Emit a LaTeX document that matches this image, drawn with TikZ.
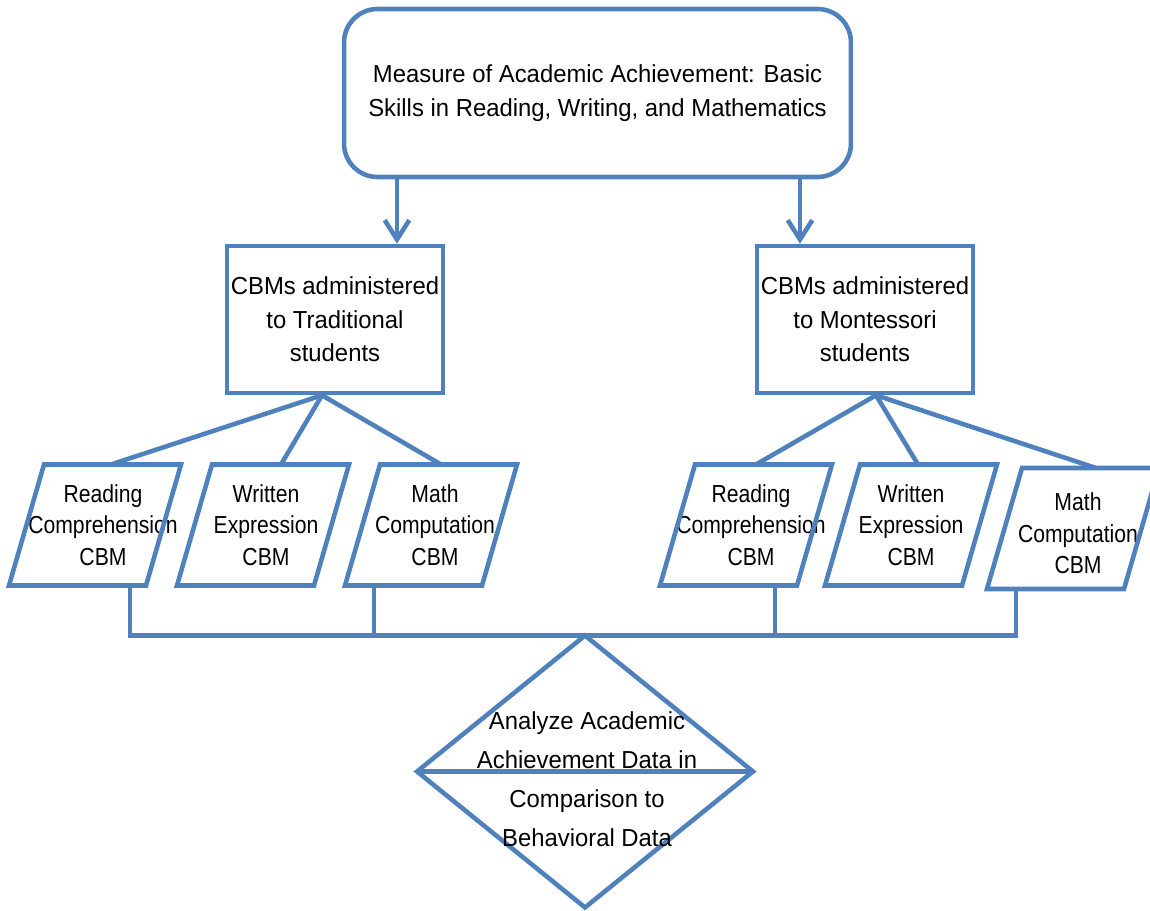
\documentclass[tikz,border=0pt]{standalone}
\usepackage{fontspec}
\setmainfont{Liberation Sans}
\newfontfamily\narrowfont{Liberation Sans}[FakeStretch=0.86]
\newfontfamily\boxfont{Liberation Sans}[FakeStretch=0.97]
\usetikzlibrary{shapes.geometric,arrows.meta,calc}
\definecolor{lineblue}{RGB}{79,129,189}
\newcommand\paragram[6]{% name, cx, cy, text dx, text dy, text
  \node[paratext] (#1) at (#2+#4,#3+#5) {#6};
  \coordinate (#1-c) at (#2,#3);
  \draw[blue line] ($(#1-c)+(-51,-60.5)$) -- ++(137,0) -- ++(-35,121) -- ++(-137,0) -- cycle;
}
\begin{document}
\begin{tikzpicture}[x=0.02cm,y=-0.02cm,
  blue line/.style={draw=lineblue, line width=2.6pt},
  arrowline/.style={blue line, -{Straight Barb[length=11pt,width=14pt]}},
  boxtext/.style={font=\boxfont\fontsize{14}{19}\selectfont, align=center, text=black},
  paratext/.style={font=\narrowfont\fontsize{14}{18}\selectfont, align=center, text=black, inner sep=0pt},
  diatext/.style={font=\boxfont\fontsize{14}{22.2}\selectfont, align=center, text=black, inner sep=0pt},
  cbmbox/.style={blue line, rectangle, minimum width=4.32cm, minimum height=2.94cm, inner sep=0pt, boxtext}]
\useasboundingbox (0,0) rectangle (1150,911);

% top box
\node[blue line, rounded corners=19pt, minimum width=10.14cm, minimum height=3.36cm, inner sep=0pt, boxtext] (top) at (597.5,93)
  {Measure of Academic Achievement: Basic\\Skills in Reading, Writing, and Mathematics};

% CBM boxes
\node[cbmbox] (cbmL) at (335,319.5) {CBMs administered\\to Traditional\\students};
\node[cbmbox] (cbmR) at (865,319.5) {CBMs administered\\to Montessori\\students};

% arrows
\coordinate (aL) at ([xshift=1.24cm]cbmL.north);
\coordinate (aR) at ([xshift=-1.3cm]cbmR.north);
\draw[arrowline] (top.south -| aL) -- (aL);
\draw[arrowline] (top.south -| aR) -- (aR);

% parallelograms
\paragram{rcL}{95}{525}{8}{0}{Reading\\Comprehension\\CBM}
\paragram{weL}{263}{525}{3}{0}{Written\\Expression\\CBM}
\paragram{mcL}{431}{525}{4}{0}{Math\\Computation\\CBM}
\paragram{rcR}{746}{525}{5}{0}{Reading\\Comprehension\\CBM}
\paragram{weR}{911}{525}{0}{0}{Written\\Expression\\CBM}
\paragram{mcR}{1073}{528.5}{5}{5}{Math\\Computation\\CBM}

% apex points
\coordinate (apL) at ([xshift=-0.26cm]cbmL.south);
\coordinate (apR) at ([xshift=0.22cm]cbmR.south);

% top connection points
\coordinate (rcLt) at ($(rcL-c)+(16,-60.5)$);
\coordinate (weLt) at ($(weL-c)+(18,-60.5)$);
\coordinate (mcLt) at ($(mcL-c)+(10,-60.5)$);
\coordinate (rcRt) at ($(rcR-c)+(10,-60.5)$);
\coordinate (weRt) at ($(weR-c)+(7,-60.5)$);
\coordinate (mcRt) at ($(mcR-c)+(23,-60.5)$);

\draw[blue line] (apL) -- (rcLt);
\draw[blue line] (apL) -- (weLt);
\draw[blue line] (apL) -- (mcLt);
\draw[blue line] (apR) -- (rcRt);
\draw[blue line] (apR) -- (weRt);
\draw[blue line] (apR) -- (mcRt);

% diamond
\node[diamond, blue line, minimum width=6.72cm, minimum height=5.44cm, inner sep=0pt, outer sep=0pt] (dia) at (585,771.5) {};
\draw[blue line] (dia.west) -- (dia.east);
\node[diatext] (diat) at (587,779) {Analyze Academic\\Achievement Data in\\Comparison to\\Behavioral Data};

% bottom connection points
\coordinate (rcLb) at ($(rcL-c)+(35,60.5)$);
\coordinate (mcLb) at ($(mcL-c)+(-57,60.5)$);
\coordinate (rcRb) at ($(rcR-c)+(29,60.5)$);
\coordinate (mcRb) at ($(mcR-c)+(-57,60.5)$);

\draw[blue line] (rcLb) -- (rcLb |- dia.north) -- (mcRb |- dia.north) -- (mcRb);
\draw[blue line] (mcLb) -- (mcLb |- dia.north);
\draw[blue line] (rcRb) -- (rcRb |- dia.north);
\end{tikzpicture}
\end{document}
